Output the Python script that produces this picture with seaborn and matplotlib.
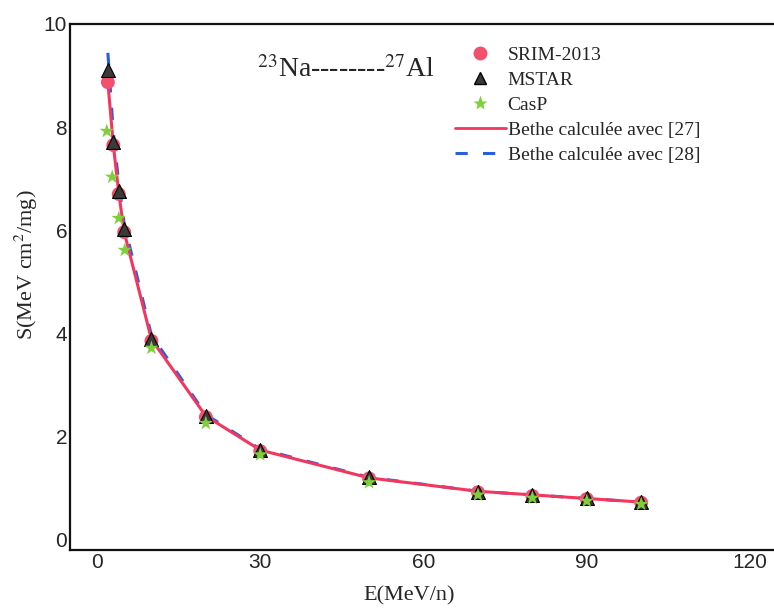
import numpy as np
import pandas as pd
import matplotlib
matplotlib.use("Agg")
import matplotlib.pyplot as plt
import seaborn as sns
from matplotlib.lines import Line2D

# ---- data ----
energy = [2, 3, 4, 5, 10, 20, 30, 50, 70, 80, 90, 100]
srim = [8.87, 7.65, 6.70, 5.96, 3.85, 2.37, 1.71, 1.18, 0.91, 0.84, 0.78, 0.71]
mstar = [9.10, 7.71, 6.76, 6.02, 3.88, 2.39, 1.73, 1.20, 0.92, 0.85, 0.79, 0.72]
casp_energy = [1.8, 2.8, 4, 5.1, 10, 20, 30, 50, 70, 80, 90, 100]
casp = [7.92, 7.03, 6.23, 5.61, 3.71, 2.25, 1.64, 1.10, 0.86, 0.80, 0.74, 0.68]
bethe27 = [8.87, 7.65, 6.72, 5.96, 3.88, 2.39, 1.73, 1.19, 0.93, 0.86, 0.79, 0.72]
bethe28 = [9.44, 7.90, 6.90, 6.12, 3.96, 2.42, 1.75, 1.20, 0.93, 0.86, 0.79, 0.72]

legend_labels = ["SRIM-2013", "MSTAR", "CasP",
                 "Bethe calculée avec [27]", "Bethe calculée avec [28]"]

df = pd.DataFrame({"E": energy, "SRIM": srim, "MSTAR": mstar,
                   "B27": bethe27, "B28": bethe28})
dfc = pd.DataFrame({"E": casp_energy, "CasP": casp})

sns.set_theme(style="white")
plt.rcParams["font.family"] = ["Liberation Serif", "DejaVu Serif"]
plt.rcParams["mathtext.fontset"] = "stix"

W, H = 774, 610
fig = plt.figure(figsize=(W / 100, H / 100), dpi=100)
ax = fig.add_axes([70 / W, (H - 550) / H, (774 - 70) / W, (550 - 24) / H])

red = "#f2365e"
pink = "#f2506e"
blue = "#2a5ee0"
green = "#7fcf3a"

sns.lineplot(data=df, x="E", y="B28", ax=ax, color=blue, lw=2.2,
             linestyle=(0, (4, 5)), zorder=2)
sns.lineplot(data=df, x="E", y="B27", ax=ax, color=red, lw=2.2, zorder=3)
sns.scatterplot(data=df, x="E", y="SRIM", ax=ax, color=pink, s=100,
                marker="o", edgecolor="none", zorder=4)
sns.scatterplot(data=df, x="E", y="MSTAR", ax=ax, color="#3a3a3a", s=100,
                marker="^", edgecolor="black", linewidth=0.8, zorder=5)
sns.scatterplot(data=dfc, x="E", y="CasP", ax=ax, color=green, s=120,
                marker="*", edgecolor="none", zorder=6)

ax.set_xlim(-4.96, 124.4)
ax.set_ylim(-0.21, 10.0)
ax.set_xticks([0, 30, 60, 90, 120])
ax.set_yticks([0, 2, 4, 6, 8, 10])
ax.tick_params(length=0, pad=2, labelsize=15)
for lab in ax.get_xticklabels() + ax.get_yticklabels():
    lab.set_family(["Liberation Sans", "DejaVu Sans"])

for s in ["left", "bottom", "top"]:
    ax.spines[s].set_color("#111111")
    ax.spines[s].set_linewidth(1.6)
ax.spines["right"].set_visible(False)

ax.set_xlabel("E(MeV/n)", fontsize=16, va="center")
ax.set_ylabel("S(MeV cm$^{2}$/mg)", fontsize=16, va="center")
ax.xaxis.set_label_coords((409 - 70) / (774 - 70), -(596 - 550) / (550 - 24))
ax.yaxis.set_label_coords(-(70 - 26) / (774 - 70), (550 - 265) / (550 - 24))

fig.text(257 / W, 1 - 77 / H, "$^{23}$Na--------$^{27}$Al", fontsize=20,
         va="baseline", ha="left")

handles = [
    Line2D([], [], marker="o", color=pink, ls="none", markersize=10, markeredgecolor="none"),
    Line2D([], [], marker="^", color="#3a3a3a", ls="none", markersize=9, markeredgecolor="black"),
    Line2D([], [], marker="*", color=green, ls="none", markersize=11, markeredgecolor="none"),
    Line2D([], [], color=red, lw=2),
    Line2D([], [], color=blue, lw=2.2, linestyle=(0, (4, 5))),
]
ax.legend(handles, legend_labels, loc="upper left",
          bbox_to_anchor=(455 / W, 1 - 46 / H), bbox_transform=fig.transFigure,
          frameon=False, fontsize=14, handlelength=2.6, handletextpad=0.1,
          labelspacing=0.38, borderpad=0, borderaxespad=0)

fig.savefig("out.png", dpi=100)
